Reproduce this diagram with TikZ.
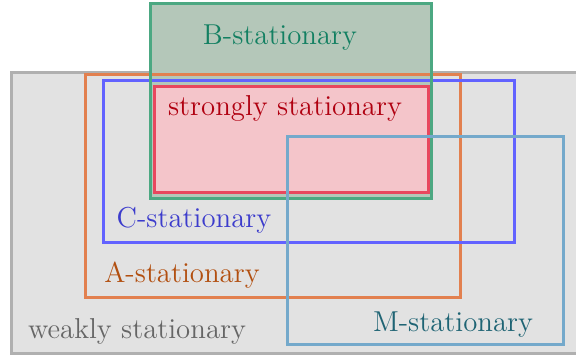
\documentclass[tikz,border=0pt]{standalone}
\usepackage{tikz}
\usetikzlibrary{positioning}

\definecolor{weakfill}{HTML}{E2E2E2}
\definecolor{weakline}{HTML}{B0B0B0}
\definecolor{weaktext}{HTML}{666666}
\definecolor{bfill}{HTML}{B4C7B9}
\definecolor{bline}{HTML}{4CA882}
\definecolor{btext}{HTML}{138062}
\definecolor{aline}{HTML}{E2804F}
\definecolor{atext}{HTML}{B24F10}
\definecolor{cline}{HTML}{6262FF}
\definecolor{ctext}{HTML}{3C3CCC}
\definecolor{sfill}{HTML}{F4C5CA}
\definecolor{sline}{HTML}{E8475E}
\definecolor{stext}{HTML}{B00010}
\definecolor{mline}{HTML}{74A9CB}
\definecolor{mtext}{HTML}{1F6474}

\begin{document}
\begin{tikzpicture}[
    x=0.5pt, y=-0.5pt,
    class/.style={line width=1.5pt},
    label/.style={inner sep=0pt, font=\fontsize{14.4}{17}\selectfont}
]
\useasboundingbox (0,0) rectangle (576,356);

% the classes, outermost first
\draw[class, fill=weakfill, draw=weakline] (11,73) rectangle (590,354);
\draw[class, fill=bfill, draw=none] (150,4) rectangle (431,199);
\draw[class, draw=aline] (85,75) rectangle (460,298);
\draw[class, draw=cline] (103,81) rectangle (514,243);
\draw[class, fill=sfill, draw=sline] (154,87) rectangle (428,193);
\draw[class, draw=bline] (150,4) rectangle (431,199);
\draw[class, draw=mline] (287,137) rectangle (563,345);

% names
\node[label, text=btext] (bname) at (280,38) {B-stationary};
\node[label, text=stext] (sname) at (285,108) {strongly stationary};
\node[label, text=ctext] (cname) at (194,220) {C-stationary};
\node[label, text=atext] (aname) at (182,275) {A-stationary};
\node[label, text=weaktext] (wname) at (137,331) {weakly stationary};
\node[label, text=mtext] (mname) at (453,325) {M-stationary};
\end{tikzpicture}
\end{document}
